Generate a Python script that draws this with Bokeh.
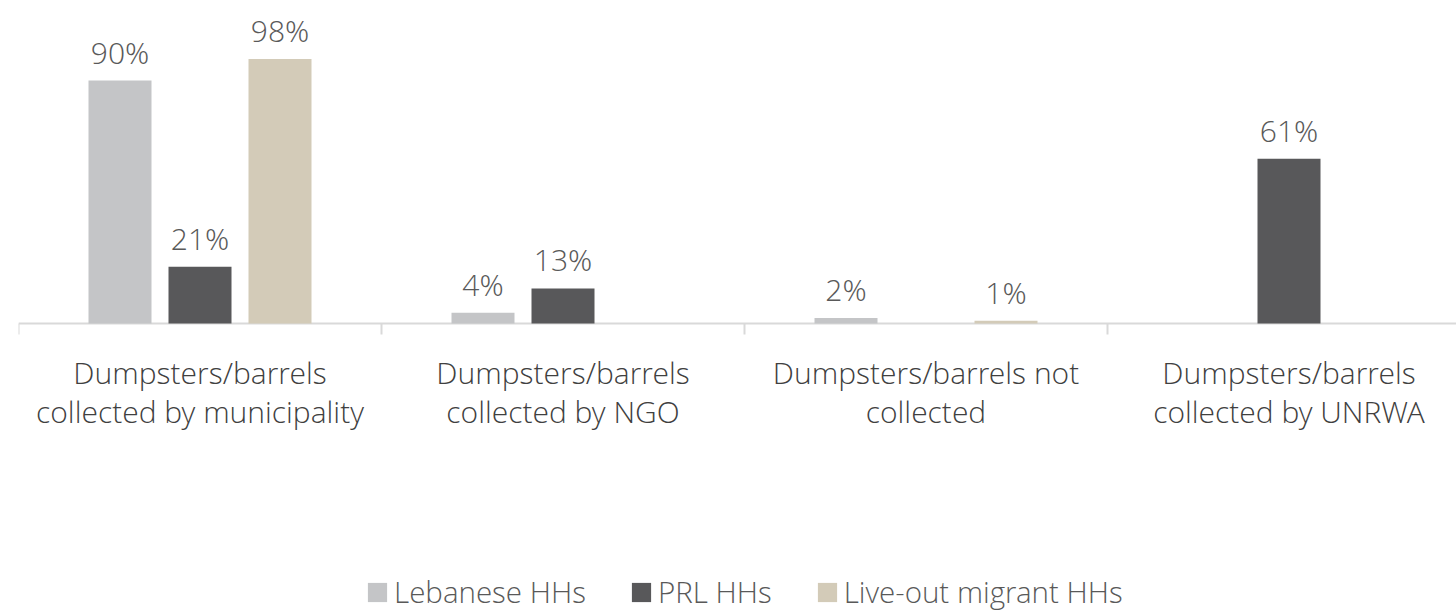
from bokeh.plotting import figure
from bokeh.models import ColumnDataSource, Range1d, Legend, LegendItem
from bokeh.transform import dodge
from bokeh.core.properties import value
from bokeh.embed import file_html
from bokeh.resources import INLINE

categories = ["Dumpsters/barrels\ncollected by municipality",
              "Dumpsters/barrels\ncollected by NGO",
              "Dumpsters/barrels not\ncollected",
              "Dumpsters/barrels\ncollected by UNRWA"]
series = ["Lebanese HHs", "PRL HHs", "Live-out migrant HHs"]
lebanese = [90, 4, 2, 0]
prl = [21, 13, 0, 61]
migrant = [98, 0, 1, 0]
colors = ["#c4c5c7", "#58585a", "#d3cbb8"]

FONT = "Open Sans Light"
PX_PER_UNIT = 2.70  # vertical pixels per percentage point
W, H = 1456, 613
LEFT = 18
CAT_PX = 363.0

xc = [i + 0.5 for i in range(len(categories))]
p = figure(width=W, height=H, output_backend="svg", toolbar_location=None,
           x_range=Range1d(0, (W - LEFT) / CAT_PX),
           y_range=Range1d(-(H - 323) / PX_PER_UNIT, 323 / PX_PER_UNIT),
           min_border_left=LEFT, min_border_right=0, min_border_top=0, min_border_bottom=0,
           outline_line_color=None)
p.xaxis.visible = False
p.yaxis.visible = False
p.grid.visible = False

# baseline and category boundary ticks
p.segment(x0=[0], y0=[0], x1=[(W - LEFT) / CAT_PX], y1=[0], line_color="#d9d9d9", line_width=2)
bx = list(range(len(categories) + 1))
p.segment(x0=bx, y0=[0] * len(bx), x1=bx, y1=[-11 / PX_PER_UNIT] * len(bx),
          line_color="#d9d9d9", line_width=2)

offs = [-80 / CAT_PX, 0, 80 / CAT_PX]
bw = 63 / CAT_PX
items = []
for vals, name, col, off in zip([lebanese, prl, migrant], series, colors, offs):
    labels = [f"{v}%" if v > 0 else "" for v in vals]
    src = ColumnDataSource(dict(x=xc, top=vals, lab=labels))
    r = p.vbar(x=dodge("x", off), top="top", bottom=0, width=bw, source=src,
               fill_color=col, line_color=None)
    p.text(x=dodge("x", off), y="top", text="lab", source=src, text_align="center",
           text_baseline="bottom", y_offset=-8, text_font=value(FONT),
           text_font_size="30px", text_color="#595959")
    items.append(LegendItem(label=name, renderers=[r]))

# category labels
p.text(x=xc, y=[-28 / PX_PER_UNIT] * len(xc), text=categories, text_align="center",
       text_baseline="top", text_font=value(FONT), text_font_size="30px",
       text_color="#404040", text_line_height=0.96)

legend = Legend(items=items, orientation="horizontal", location=(347, 1),
                border_line_color=None, background_fill_alpha=0,
                label_text_font=FONT, label_text_font_size="29.5px", label_text_color="#595959",
                glyph_width=24, glyph_height=24, label_standoff=5, spacing=43,
                padding=0, margin=0)
p.add_layout(legend, "center")

open("out.html", "w").write(file_html(p, INLINE))
